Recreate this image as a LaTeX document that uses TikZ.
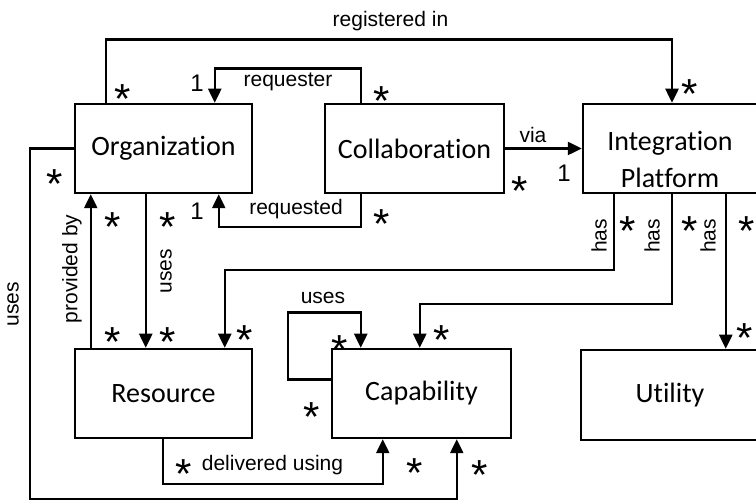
\documentclass[tikz,border=0pt]{standalone}
\usepackage{fontspec}
\setmainfont[Ligatures=NoCommon]{Carlito}
\newfontfamily\arialf{Liberation Sans}
\usetikzlibrary{arrows.meta,calc}

\begin{document}
\begin{tikzpicture}[x=1pt,y=-1pt,
  cls/.style={draw, line width=2.5pt, minimum width=177pt, minimum height=89pt,
    inner sep=0pt, align=center, font=\fontsize{28}{37}\selectfont},
  clstext/.style={inner sep=0pt, align=center, font=\fontsize{28}{37}\selectfont},
  conn/.style={line width=2.5pt},
  arr/.style={conn, -{Triangle[length=14pt,width=13pt]}},
  lbl/.style={font=\arialf\fontsize{21}{24}\selectfont, inner sep=0pt},
  one/.style={font=\arialf\fontsize{24}{26}\selectfont, inner sep=0pt},
  vlbl/.style={lbl, rotate=90},
  mult/.style={font=\arialf\fontsize{42}{42}\selectfont, inner sep=0pt,
    anchor=base, yshift=-24pt},
]
\useasboundingbox (0,0) rectangle (756,502);
\clip (0,0) rectangle (756,502);

% classes
\node[cls] (org) at (163.5,148.5) {Organization};
\node[cls, minimum width=179pt] (col) at (414.5,148.5) {Collaboration};
\node[cls, minimum width=178pt] (ip) at (672,148.5) {};
\node[clstext] (ipt) at (670,159) {Integration\\Platform};
\node[cls] (res) at (163.5,393.5) {Resource};
\node[cls, minimum width=179pt] (cap) at (421.5,393.5) {Capability};
\node[cls, minimum width=178pt, minimum height=90pt] (util) at (670,395) {Utility};

% associations
\draw[arr] ([xshift=32pt]org.north west) -- ++(0,-63) -| (ip.north);
\draw[arr] ([xshift=37pt]col.north west) -- ++(0,-34) -| ([xshift=141pt]org.north west);
\draw[arr] ([xshift=37pt]col.south west) -- ++(0,33) -| ([xshift=145pt]org.south west);
\draw[arr] (col.east) -- (ip.west);
\draw[arr] ([xshift=17pt]res.north west) -- ([xshift=17pt]org.south west);
\draw[arr] ([xshift=72pt]org.south west) -- ([xshift=72pt]res.north west);
\draw[arr] (org.west) -- ++(-44,0) -- ++(0,350.5) -| ([xshift=126pt]cap.south west);
\draw[arr] ([xshift=89pt]res.south west) -- ++(0,45) -| ([xshift=52pt]cap.south west);
\draw[arr] ([yshift=-32pt]cap.north west) -- ++(-43,0) -- ++(0,-67) -| ([xshift=30pt]cap.north west);
\draw[arr] ([xshift=32pt]ip.south west) -- ++(0,76) -| ([xshift=151pt]res.north west);
\draw[arr] (ip.south) -- ++(0,110) -| ([xshift=89pt]cap.north west);
\draw[arr] ([xshift=144pt]ip.south west) -- ([xshift=146pt]util.north west);

% role names
\node[lbl] (l-reg) at (390.5,21) {registered in};
\node[lbl] (l-rqr) at (288,82) {requester};
\node[one] (l-rqr1) at (197,83) {1};
\node[lbl] (l-rqd) at (296,209) {requested};
\node[one] (l-rqd1) at (197,211) {1};
\node[lbl] (l-via) at (533,135) {via};
\node[one] (l-via1) at (564,173) {1};
\node[vlbl] (l-prov) at (72,269) {provided by};
\node[vlbl] (l-uses1) at (166,271) {uses};
\node[vlbl] (l-uses2) at (13,304) {uses};
\node[lbl] (l-uses3) at (323,298) {uses};
\node[lbl] (l-deliv) at (272.5,465) {delivered using};
\node[vlbl] (l-has1) at (599,236) {has};
\node[vlbl] (l-has2) at (652,236) {has};
\node[vlbl] (l-has3) at (708,236) {has};

% multiplicities
\foreach \p [count=\i] in {(123,90),(690,85),(382,92),(382,215),(520,182),
    (113,218),(113,333),(168,218),(168,333),(55,175),(480,466),(415,464),
    (340,341),(312,408),(628,222),(245,331),(690,222),(442,331),(747,222),
    (745,329),(184,465)}
  \node[mult] (m\i) at \p {*};
\end{tikzpicture}
\end{document}
